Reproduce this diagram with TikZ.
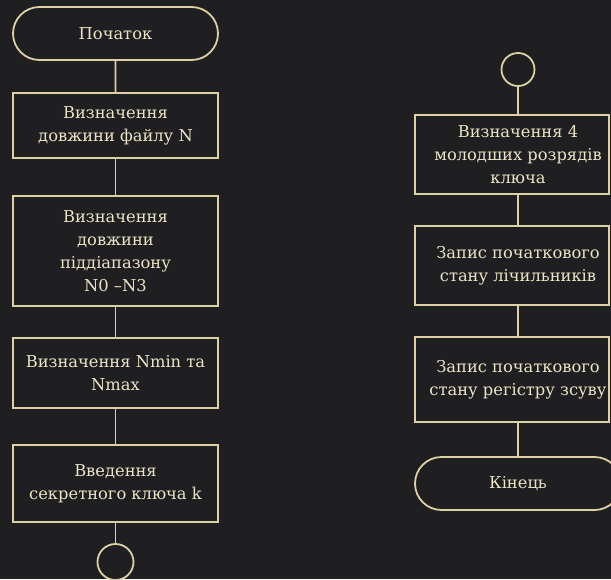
\documentclass[tikz,border=0pt]{standalone}
\usepackage{fontspec}
\setmainfont{DejaVu Serif}
\definecolor{bgc}{HTML}{1F1F22}
\definecolor{linec}{HTML}{DDD0A4}
\definecolor{txtc}{HTML}{ECE4C6}
\tikzset{
  every node/.style={font=\fontsize{16.3}{23}\selectfont, text=txtc, align=center},
  boxl/.style={draw=linec, line width=1.8pt, minimum width=205pt, inner sep=0pt},
  boxr/.style={draw=linec, line width=1.8pt, minimum width=194pt, inner sep=0pt},
  term/.style={draw=linec, line width=1.8pt, rounded rectangle, minimum width=205pt, inner sep=0pt},
  conn/.style={draw=linec, line width=1.8pt, circle, inner sep=0pt},
  link/.style={draw=linec, line width=1.8pt},
  txt/.style={inner sep=0pt}
}
\usetikzlibrary{shapes.misc}
\begin{document}
\begin{tikzpicture}[x=1pt,y=-1pt]
\useasboundingbox (0,0) rectangle (611,579);
\fill[bgc] (0,0) rectangle (611,579);
\clip (0,0) rectangle (611,579);
% left column
\node[term, minimum height=53pt] (start) at (115.5,33.5) {Початок};
\node[boxl, minimum height=65pt] (b1) at (115.5,125.5) {Визначення\\довжини файлу N};
\node[boxl, minimum height=110pt] (b2) at (115.5,251) {Визначення\\довжини\\піддіапазону\\N0 –N3};
\node[boxl, minimum height=70pt] (b3) at (115.5,373) {Визначення Nmin та\\Nmax};
\node[boxl, minimum height=77pt] (b4) at (115.5,483.5) {Введення\\секретного ключа k};
\node[conn, minimum size=36pt] (c1) at (115.5,562) {};
\draw[link] (start) -- (b1);
\draw[link] (b1) -- (b2);
\draw[link] (b2) -- (b3);
\draw[link] (b3) -- (b4);
\draw[link] (b4) -- (c1);
% right column
\node[conn, minimum size=33pt] (c2) at (518,69.5) {};
\node[boxr, minimum height=79pt] (r1) at (512,154.5) {};
\node[txt] (r1t) at (518,154.5) {Визначення 4\\молодших розрядів\\ключа};
\node[boxr, minimum height=79pt] (r2) at (512,265.5) {};
\node[txt] (r2t) at (518,265.5) {Запис початкового\\стану лічильників};
\node[boxr, minimum height=85pt] (r3) at (512,379.5) {};
\node[txt] (r3t) at (518,379.5) {Запис початкового\\стану регістру зсуву};
\node[term, minimum height=53pt, minimum width=206pt] (end) at (518,483.5) {Кінець};
\draw[link] (c2) -- (c2 |- r1.north);
\draw[link] (c2 |- r1.south) -- (c2 |- r2.north);
\draw[link] (c2 |- r2.south) -- (c2 |- r3.north);
\draw[link] (c2 |- r3.south) -- (end);
\end{tikzpicture}
\end{document}
